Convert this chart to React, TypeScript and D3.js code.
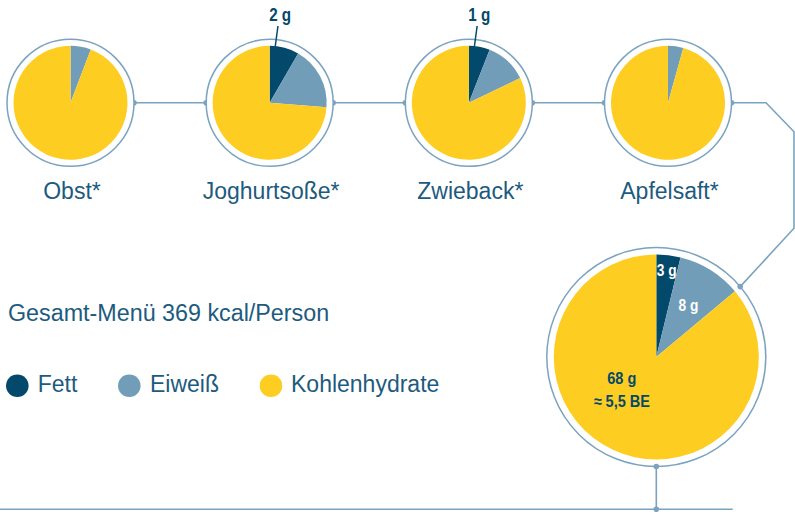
import React from "react";
import * as d3 from "d3";

const dishes = ["Obst*", "Joghurtsoße*", "Zwieback*", "Apfelsaft*"];
const fett = [0, 2, 1, 0];
const eiweiss = [1.1, 4.3, 2.0, 0.8];
const kohlenhydrate = [17.9, 17.7, 13.8, 17.7];
const fettLabels = ["", "2 g", "1 g", ""];

const nutrients = ["Fett", "Eiweiß", "Kohlenhydrate"];
const totalValues = [3, 8, 68];
const totalLabels = ["3 g", "8 g", "68 g"];
const beLabel = "≈ 5,5 BE";
const title = "Gesamt-Menü 369 kcal/Person";

const W = 795;
const H = 512;
const colors = ["#03496b", "#729db9", "#fecd21"];
const lineColor = "#7ba3bf";
const textColor = "#1d5b7e";
const sans = "'Liberation Sans', Arial, sans-serif";

function CondText({
  x,
  y,
  size,
  sx,
  fill,
  children,
}: {
  x: number;
  y: number;
  size: number;
  sx: number;
  fill: string;
  children: React.ReactNode;
}) {
  return (
    <text
      transform={`translate(${x},${y}) scale(${sx},1)`}
      textAnchor="middle"
      fontFamily={sans}
      fontWeight="bold"
      fontSize={size}
      fill={fill}
    >
      {children}
    </text>
  );
}

export default function App() {
  const x = d3.scalePoint<string>().domain(dishes).range([70.5, 668]);
  const cy = 102.8;
  const r = 57;
  const ringR = 63.5;
  const pie = d3.pie<number>().sort(null).value((d) => d);
  const arc = d3.arc<d3.PieArcDatum<number>>().innerRadius(0).outerRadius(r);

  const big = { cx: 656.3, cy: 357, r: 102.5, ring: 109.5 };
  const bigArcs = pie(totalValues);
  const bigArc = d3.arc<d3.PieArcDatum<number>>().innerRadius(0).outerRadius(big.r);
  const labelArc = (rad: number) =>
    d3.arc<d3.PieArcDatum<number>>().innerRadius(rad).outerRadius(rad);

  const bottomY = 509.3;
  const legendX = [17.3, 129.3, 271];
  const legendTextX = [37.7, 150, 291];

  const apfX = x(dishes[3])!;
  const bigAngle = (50 * Math.PI) / 180;
  const bigDot: [number, number] = [
    big.cx + big.ring * Math.sin(bigAngle),
    big.cy - big.ring * Math.cos(bigAngle),
  ];
  const connector = d3.line()([
    [apfX + ringR, cy],
    [766, cy],
    [794, 131.7],
    [794, 228.3],
    bigDot,
  ]);

  return (
    <svg
      width={W}
      height={H}
      style={{ position: "absolute", left: 0, top: 0, background: "#fff" }}
    >
      {dishes.slice(0, -1).map((d, i) => {
        const x1 = x(d)! + ringR;
        const x2 = x(dishes[i + 1])! - ringR;
        return (
          <g key={"c" + i}>
            <line x1={x1} x2={x2} y1={cy} y2={cy} stroke={lineColor} strokeWidth={1.6} />
            <circle cx={x1} cy={cy} r={2.8} fill={lineColor} />
            <circle cx={x2} cy={cy} r={2.8} fill={lineColor} />
          </g>
        );
      })}
      <path d={connector!} fill="none" stroke={lineColor} strokeWidth={1.6} />
      <circle cx={apfX + ringR} cy={cy} r={2.8} fill={lineColor} />

      {dishes.map((d, i) => {
        const cx = x(d)!;
        const arcs = pie([fett[i], eiweiss[i], kohlenhydrate[i]]);
        return (
          <g key={d}>
            <circle cx={cx} cy={cy} r={ringR} fill="#fff" stroke={lineColor} strokeWidth={1.5} />
            <g transform={`translate(${cx},${cy})`}>
              {arcs.map((a, j) =>
                a.value > 0 ? <path key={j} d={arc(a)!} fill={colors[j]} /> : null
              )}
            </g>
            {fettLabels[i] && (
              <g>
                <line
                  x1={cx + 8.3}
                  y1={26}
                  x2={cx + 5.5}
                  y2={47}
                  stroke={colors[0]}
                  strokeWidth={1.5}
                />
                <CondText x={cx + 10.5} y={20.7} size={19} sx={0.8} fill={colors[0]}>
                  {fettLabels[i]}
                </CondText>
              </g>
            )}
            <text
              x={cx + 1.5}
              y={199.3}
              textAnchor="middle"
              fontFamily={sans}
              fontSize={23}
              fill={textColor}
            >
              {d}
            </text>
          </g>
        );
      })}

      <text x={8} y={320.5} fontFamily={sans} fontSize={23.3} fill={textColor}>
        {title}
      </text>
      {nutrients.map((n, i) => (
        <g key={n}>
          <circle cx={legendX[i]} cy={385.7} r={11.3} fill={colors[i]} />
          <text x={legendTextX[i]} y={391.7} fontFamily={sans} fontSize={23} fill={textColor}>
            {n}
          </text>
        </g>
      ))}

      <line x1={big.cx} x2={big.cx} y1={big.cy + big.ring} y2={bottomY} stroke={lineColor} strokeWidth={1.6} />
      <line x1={0} x2={732.7} y1={bottomY} y2={bottomY} stroke={lineColor} strokeWidth={1.6} />
      <circle cx={big.cx} cy={bottomY} r={2.8} fill={lineColor} />
      <circle cx={big.cx} cy={big.cy + big.ring} r={2.8} fill={lineColor} />
      <circle cx={big.cx} cy={big.cy} r={big.ring} fill="none" stroke={lineColor} strokeWidth={1.5} />
      <circle cx={bigDot[0]} cy={bigDot[1]} r={2.8} fill={lineColor} />
      <g transform={`translate(${big.cx},${big.cy})`}>
        {bigArcs.map((a, j) => (
          <path key={j} d={bigArc(a)!} fill={colors[j]} />
        ))}
        {bigArcs.slice(0, 2).map((a, j) => {
          const [lx, ly] = labelArc(j === 0 ? 87 : 61).centroid(a);
          return (
            <CondText key={"l" + j} x={lx} y={ly + 5.7} size={16} sx={0.86} fill="#fff">
              {totalLabels[j]}
            </CondText>
          );
        })}
        <CondText x={-34.5} y={27.3} size={16.5} sx={0.88} fill={colors[0]}>
          {totalLabels[2]}
        </CondText>
        <CondText x={-34.5} y={50.3} size={16.5} sx={0.88} fill={colors[0]}>
          {beLabel}
        </CondText>
      </g>
    </svg>
  );
}
